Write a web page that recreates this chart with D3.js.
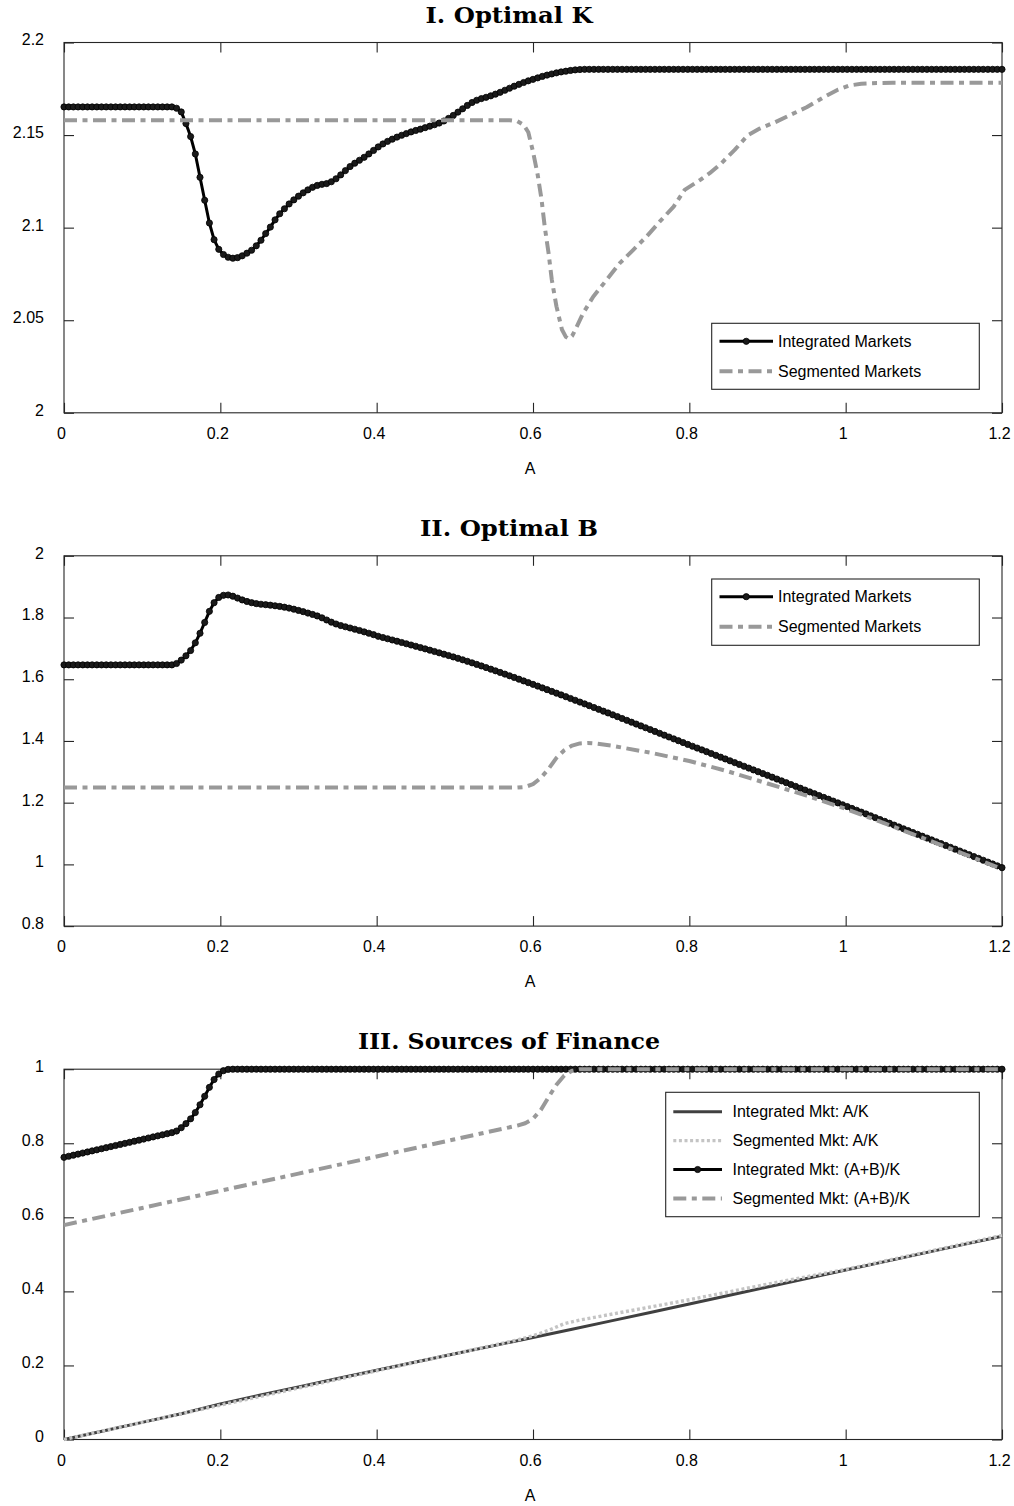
<!DOCTYPE html>
<html>
<head>
<meta charset="utf-8">
<script src="https://cdn.jsdelivr.net/npm/d3@7"></script>
<style>
body { margin: 0; background: #fff; }
svg text { fill: #000; }
</style>
</head>
<body>
<svg id="fig" width="1014" height="1506"></svg>
<script>
// ---- data ----
// integrated markets are sampled every 0.006 in A (201 points, marker at each)
var aStep = 0.006;

var intK = [
  2.1652, 2.1652, 2.1652, 2.1652, 2.1652, 2.1652, 2.1652, 2.1652, 2.1652, 2.1652,
  2.1652, 2.1652, 2.1652, 2.1652, 2.1652, 2.1652, 2.1652, 2.1652, 2.1652, 2.1652,
  2.1652, 2.1652, 2.1652, 2.1652,
  2.1645, 2.1625, 2.1562, 2.1492, 2.1398, 2.1272, 2.1148, 2.1025, 2.0935, 2.0883,
  2.0855, 2.0840, 2.0835, 2.0838, 2.0848, 2.0862, 2.0878, 2.0902, 2.0932, 2.0968,
  2.1003, 2.1042, 2.1075, 2.1102, 2.1128, 2.1150, 2.1170, 2.1188, 2.1204, 2.1218,
  2.1228, 2.1234, 2.1238, 2.1248, 2.1264, 2.1285, 2.1308, 2.1330, 2.1348, 2.1364,
  2.1380, 2.1398, 2.1417, 2.1436, 2.1452, 2.1466, 2.1478, 2.1489, 2.1499, 2.1508,
  2.1517, 2.1525, 2.1532, 2.1540, 2.1548, 2.1556, 2.1565, 2.1576, 2.1590, 2.1606,
  2.1624, 2.1642, 2.1660, 2.1676, 2.1688, 2.1697, 2.1704, 2.1712, 2.1721, 2.1731,
  2.1742, 2.1753, 2.1764, 2.1774, 2.1784, 2.1793, 2.1801, 2.1809, 2.1817, 2.1824,
  2.1830, 2.1836, 2.1841, 2.1845, 2.1849, 2.1852, 2.1854, 2.1855,
  2.1855, 2.1855, 2.1855, 2.1855, 2.1855, 2.1855, 2.1855, 2.1855, 2.1855, 2.1855,
  2.1855, 2.1855, 2.1855, 2.1855, 2.1855, 2.1855, 2.1855, 2.1855, 2.1855, 2.1855,
  2.1855, 2.1855, 2.1855, 2.1855, 2.1855, 2.1855, 2.1855, 2.1855, 2.1855, 2.1855,
  2.1855, 2.1855, 2.1855, 2.1855, 2.1855, 2.1855, 2.1855, 2.1855, 2.1855, 2.1855,
  2.1855, 2.1855, 2.1855, 2.1855, 2.1855, 2.1855, 2.1855, 2.1855, 2.1855, 2.1855,
  2.1855, 2.1855, 2.1855, 2.1855, 2.1855, 2.1855, 2.1855, 2.1855, 2.1855, 2.1855,
  2.1855, 2.1855, 2.1855, 2.1855, 2.1855, 2.1855, 2.1855, 2.1855, 2.1855, 2.1855,
  2.1855, 2.1855, 2.1855, 2.1855, 2.1855, 2.1855, 2.1855, 2.1855, 2.1855, 2.1855,
  2.1855, 2.1855, 2.1855, 2.1855, 2.1855, 2.1855, 2.1855, 2.1855, 2.1855
];

var intB = [
  1.6465, 1.6465, 1.6465, 1.6465, 1.6465, 1.6465, 1.6465, 1.6465, 1.6465, 1.6465,
  1.6465, 1.6465, 1.6465, 1.6465, 1.6465, 1.6465, 1.6465, 1.6465, 1.6465, 1.6465,
  1.6465, 1.6465, 1.6465, 1.6465,
  1.6510, 1.6620, 1.6760, 1.6930, 1.7180, 1.7490, 1.7840, 1.8200, 1.8480, 1.8650,
  1.8720, 1.8730, 1.8690, 1.8630, 1.8570, 1.8520, 1.8480, 1.8450, 1.8430, 1.8415,
  1.8400, 1.8380, 1.8360, 1.8335, 1.8305, 1.8270, 1.8230, 1.8190, 1.8145, 1.8100,
  1.8050, 1.7990, 1.7920, 1.7850, 1.7790, 1.7740, 1.7700, 1.7660, 1.7620, 1.7580,
  1.7535, 1.7490, 1.7445, 1.7392, 1.7352, 1.7312, 1.7272, 1.7232, 1.7191, 1.7150,
  1.7109, 1.7068, 1.7026, 1.6984, 1.6942, 1.6899, 1.6856, 1.6812, 1.6768, 1.6723,
  1.6678, 1.6630, 1.6581, 1.6531, 1.6481, 1.6430, 1.6378, 1.6326, 1.6273, 1.6220,
  1.6166, 1.6112, 1.6057, 1.6002, 1.5946, 1.5890, 1.5834, 1.5777, 1.5720, 1.5663,
  1.5606, 1.5549, 1.5492, 1.5434, 1.5376, 1.5318, 1.5260, 1.5202, 1.5143, 1.5084,
  1.5025, 1.4966, 1.4907, 1.4848, 1.4788, 1.4728, 1.4668, 1.4608, 1.4548, 1.4488,
  1.4428, 1.4368, 1.4308, 1.4248, 1.4188, 1.4128, 1.4068, 1.4008, 1.3948, 1.3888,
  1.3829, 1.3770, 1.3711, 1.3652, 1.3593, 1.3534, 1.3475, 1.3416, 1.3357, 1.3298,
  1.3239, 1.3180, 1.3121, 1.3062, 1.3003, 1.2944, 1.2885, 1.2826, 1.2766, 1.2707,
  1.2647, 1.2588, 1.2528, 1.2469, 1.2409, 1.2350, 1.2290, 1.2231, 1.2171, 1.2112,
  1.2052, 1.1993, 1.1933, 1.1874, 1.1814, 1.1754, 1.1694, 1.1634, 1.1574, 1.1514,
  1.1454, 1.1394, 1.1334, 1.1274, 1.1214, 1.1154, 1.1094, 1.1034, 1.0974, 1.0914,
  1.0854, 1.0794, 1.0734, 1.0674, 1.0614, 1.0554, 1.0494, 1.0434, 1.0374, 1.0314,
  1.0254, 1.0194, 1.0134, 1.0074, 1.0014, 0.9954, 0.9894
];

var intAB = [
  0.7620, 0.7649, 0.7678, 0.7707, 0.7736, 0.7765, 0.7794, 0.7823, 0.7852, 0.7881,
  0.7910, 0.7939, 0.7968, 0.7997, 0.8026, 0.8055, 0.8084, 0.8113, 0.8142, 0.8171,
  0.8200, 0.8229, 0.8258, 0.8287,
  0.8330, 0.8420, 0.8530, 0.8660, 0.8830, 0.9040, 0.9270, 0.9510, 0.9720, 0.9870,
  0.9960, 0.9995,
  1, 1, 1, 1, 1, 1, 1, 1, 1, 1, 1, 1, 1, 1, 1, 1, 1, 1, 1, 1,
  1, 1, 1, 1, 1, 1, 1, 1, 1, 1, 1, 1, 1, 1, 1, 1, 1, 1, 1, 1,
  1, 1, 1, 1, 1, 1, 1, 1, 1, 1, 1, 1, 1, 1, 1, 1, 1, 1, 1, 1,
  1, 1, 1, 1, 1, 1, 1, 1, 1, 1, 1, 1, 1, 1, 1, 1, 1, 1, 1, 1,
  1, 1, 1, 1, 1, 1, 1, 1, 1, 1, 1, 1, 1, 1, 1, 1, 1, 1, 1, 1,
  1, 1, 1, 1, 1, 1, 1, 1, 1, 1, 1, 1, 1, 1, 1, 1, 1, 1, 1, 1,
  1, 1, 1, 1, 1, 1, 1, 1, 1, 1, 1, 1, 1, 1, 1, 1, 1, 1, 1, 1,
  1, 1, 1, 1, 1, 1, 1, 1, 1, 1, 1, 1, 1, 1, 1, 1, 1, 1, 1, 1,
  1, 1, 1, 1, 1
];

// segmented markets (no markers), irregular A points
var segKA = [0, 0.57, 0.58, 0.588, 0.594, 0.6, 0.606, 0.611, 0.615, 0.62, 0.624, 0.63, 0.637, 0.642, 0.646, 0.65,
  0.654, 0.664, 0.677, 0.694, 0.711, 0.728, 0.745, 0.762, 0.78, 0.794, 0.814, 0.826, 0.841, 0.858, 0.875,
  0.89, 0.91, 0.93, 0.95, 0.97, 0.99, 1.005, 1.02, 1.04, 1.06, 1.2];
var segK = [2.158, 2.158, 2.1575, 2.1555, 2.1515, 2.141, 2.1285, 2.115, 2.1005, 2.086, 2.072, 2.0575, 2.045, 2.041, 2.04, 2.0415,
  2.0447, 2.0537, 2.0627, 2.0717, 2.0808, 2.0879, 2.0951, 2.1032, 2.1114, 2.1204, 2.1258, 2.1294, 2.1348, 2.142, 2.15,
  2.1535, 2.157, 2.161, 2.165, 2.17, 2.1745, 2.1768, 2.1777, 2.1781, 2.1782, 2.1782];

var segBA = [0, 0.58, 0.59, 0.6, 0.61, 0.62, 0.63, 0.64, 0.65, 0.66, 0.67, 0.68, 0.7, 0.75, 0.8, 0.85, 0.9, 0.95, 1, 1.05, 1.1, 1.15, 1.2];
var segB = [1.249, 1.249, 1.251, 1.26, 1.28, 1.31, 1.345, 1.37, 1.385, 1.392, 1.3935, 1.3915, 1.385, 1.362, 1.335, 1.301, 1.262, 1.223, 1.18, 1.133, 1.084, 1.035, 0.985];

var segABA = [0, 0.1, 0.2, 0.3, 0.4, 0.5, 0.58, 0.59, 0.6, 0.61, 0.62, 0.63, 0.64, 0.65, 0.66, 1.2];
var segAB = [0.579, 0.6253, 0.6717, 0.718, 0.7644, 0.8107, 0.8478, 0.854, 0.866, 0.89, 0.925, 0.958, 0.983, 0.996, 1, 1];

var akA = [0, 0.05, 0.1, 0.15, 0.2, 0.25, 0.3, 0.35, 0.4, 0.45, 0.5, 0.55, 0.6, 0.65, 0.7, 0.75, 0.8, 0.85, 0.9, 0.95, 1, 1.05, 1.1, 1.15, 1.2];
var intAK = [0, 0.0231, 0.0462, 0.0694, 0.0957, 0.1194, 0.1418, 0.1645, 0.187, 0.2094, 0.2318, 0.2535, 0.2757, 0.2977,
  0.3204, 0.3432, 0.366, 0.389, 0.4118, 0.4347, 0.4576, 0.4804, 0.5033, 0.5262, 0.549];
var segAKA = [0, 0.05, 0.1, 0.15, 0.2, 0.25, 0.3, 0.35, 0.4, 0.45, 0.5, 0.55, 0.58, 0.6, 0.62, 0.64, 0.66, 0.7, 0.75, 0.8, 0.85, 0.9, 0.95, 1, 1.05, 1.1, 1.15, 1.2];
var segAK = [0, 0.0232, 0.0463, 0.0695, 0.0927, 0.1158, 0.139, 0.1622, 0.1854, 0.2085, 0.2317, 0.2549, 0.2688, 0.2803,
  0.2948, 0.3128, 0.3228, 0.3382, 0.3577, 0.3775, 0.3984, 0.4195, 0.4395, 0.4594, 0.4821, 0.505, 0.528, 0.551];

// ticks
var xTicks = [0, 0.2, 0.4, 0.6, 0.8, 1, 1.2];
var xTickLabels = ["0", "0.2", "0.4", "0.6", "0.8", "1", "1.2"];
var kTicks = [2, 2.05, 2.1, 2.15, 2.2];
var kTickLabels = ["2", "2.05", "2.1", "2.15", "2.2"];
var bTicks = [0.8, 1, 1.2, 1.4, 1.6, 1.8, 2];
var bTickLabels = ["0.8", "1", "1.2", "1.4", "1.6", "1.8", "2"];
var fTicks = [0, 0.2, 0.4, 0.6, 0.8, 1];
var fTickLabels = ["0", "0.2", "0.4", "0.6", "0.8", "1"];

var titles = ["I. Optimal K", "II. Optimal B", "III. Sources of Finance"];
var legendK = ["Integrated Markets", "Segmented Markets"];
var legendF = ["Integrated Mkt: A/K", "Segmented Mkt: A/K", "Integrated Mkt: (A+B)/K", "Segmented Mkt: (A+B)/K"];

// ---- layout ----
var left = 64, right = 1002, plotH = 370.3;
var tops = [42.5, 555.8, 1069.2];
var titleW = [167, 178, 302];   // rendered widths of the wide serif titles
var sans = "'Liberation Sans', Arial, Helvetica, sans-serif";

var svg = d3.select("#fig");
var x = d3.scaleLinear().domain([0, 1.2]).range([left, right]);

var sty = {
  intM: { stroke: "#000", width: 3, dash: null, marker: true },
  seg: { stroke: "#999", width: 4, dash: "13,5.5,5,5.5" },
  intL: { stroke: "#404040", width: 3, dash: null },
  segD: { stroke: "#c4c4c4", width: 3.4, dash: "3,2.6" }
};

function pairs(xs, ys) { return ys.map(function(v, i) { return [xs[i], v]; }); }
function grid(ys) { return ys.map(function(v, i) { return [i * aStep, v]; }); }

function panel(idx, yDomain, yTicks, yLabels) {
  var top = tops[idx], bottom = top + plotH;
  var y = d3.scaleLinear().domain(yDomain).range([bottom, top]);
  var g = svg.append("g");

  // box
  g.append("rect").attr("x", left).attr("y", top).attr("width", right - left).attr("height", plotH)
    .attr("fill", "none").attr("stroke", "#262626").attr("stroke-width", 1.1);

  var xb = g.append("g").attr("transform", "translate(0," + bottom + ")")
    .call(d3.axisBottom(x).tickValues(xTicks).tickSize(-10).tickPadding(15)
      .tickFormat(function(d, i) { return xTickLabels[i]; }));
  var xt = g.append("g").attr("transform", "translate(0," + top + ")")
    .call(d3.axisTop(x).tickValues(xTicks).tickSize(-10).tickFormat(""));
  var yl = g.append("g").attr("transform", "translate(" + left + ",0)")
    .call(d3.axisLeft(y).tickValues(yTicks).tickSize(-10).tickPadding(20)
      .tickFormat(function(d, i) { return yLabels[i]; }));
  var yr = g.append("g").attr("transform", "translate(" + right + ",0)")
    .call(d3.axisRight(y).tickValues(yTicks).tickSize(-10).tickFormat(""));

  [xb, xt, yl, yr].forEach(function(a) {
    a.select(".domain").remove();
    a.selectAll("line").attr("stroke", "#262626").attr("stroke-width", 1.1);
    a.selectAll("text").style("font-size", "16px").style("font-family", sans).attr("fill", "#1a1a1a");
  });
  xb.selectAll("text").attr("dx", -3);
  yl.selectAll("text").attr("dy", "0.15em");

  g.append("text").attr("x", 509).attr("y", top - 20).attr("text-anchor", "middle")
    .attr("textLength", titleW[idx]).attr("lengthAdjust", "spacingAndGlyphs")
    .style("font-family", "'DejaVu Serif', serif").style("font-weight", "bold").style("font-size", "22px")
    .text(titles[idx]);

  g.append("text").attr("x", 530).attr("y", bottom + 61).attr("text-anchor", "middle")
    .style("font-family", sans).style("font-size", "16px").text("A");

  return { g: g, y: y };
}

function series(p, data, s) {
  var line = d3.line().x(function(d) { return x(d[0]); }).y(function(d) { return p.y(d[1]); });
  p.g.append("path").datum(data).attr("d", line).attr("fill", "none")
    .attr("stroke", s.stroke).attr("stroke-width", s.width)
    .attr("stroke-dasharray", s.dash).attr("stroke-linejoin", "round");
  if (s.marker) {
    p.g.append("g").selectAll("circle").data(data).enter().append("circle")
      .attr("cx", function(d) { return x(d[0]); })
      .attr("cy", function(d) { return p.y(d[1]); })
      .attr("r", 3.1).attr("fill", "#1a1a1a").attr("stroke", "#000").attr("stroke-width", 0.8);
  }
}

function legend(p, box, rows) {
  var g = p.g.append("g");
  g.append("rect").attr("x", box.x).attr("y", box.y).attr("width", box.w).attr("height", box.h)
    .attr("fill", "#fff").attr("stroke", "#262626").attr("stroke-width", 1.1);
  rows.forEach(function(r, i) {
    var cy = box.y + box.first + i * box.step;
    g.append("line").attr("x1", box.lx0).attr("x2", box.lx1).attr("y1", cy).attr("y2", cy)
      .attr("stroke", r.s.stroke).attr("stroke-width", r.s.width).attr("stroke-dasharray", r.s.dash);
    if (r.s.marker) {
      g.append("circle").attr("cx", (box.lx0 + box.lx1) / 2).attr("cy", cy).attr("r", 3.1)
        .attr("fill", "#1a1a1a").attr("stroke", "#000").attr("stroke-width", 0.8);
    }
    g.append("text").attr("x", box.tx).attr("y", cy + 5.5)
      .style("font-family", sans).style("font-size", "16px").text(r.label);
  });
}

// ---- panel I ----
var p1 = panel(0, [2, 2.2], kTicks, kTickLabels);
series(p1, grid(intK), sty.intM);
series(p1, pairs(segKA, segK), sty.seg);
legend(p1, { x: 711.7, y: 323.3, w: 267.6, h: 66, first: 18, step: 30, lx0: 719.5, lx1: 773, tx: 778 },
  [{ label: legendK[0], s: sty.intM }, { label: legendK[1], s: sty.seg }]);

// ---- panel II ----
var p2 = panel(1, [0.8, 2], bTicks, bTickLabels);
series(p2, grid(intB), sty.intM);
series(p2, pairs(segBA, segB), sty.seg);
legend(p2, { x: 711.7, y: 579, w: 267.6, h: 66.3, first: 17.7, step: 30, lx0: 719.5, lx1: 773, tx: 778 },
  [{ label: legendK[0], s: sty.intM }, { label: legendK[1], s: sty.seg }]);

// ---- panel III ----
var p3 = panel(2, [0, 1], fTicks, fTickLabels);
series(p3, pairs(akA, intAK), sty.intL);
series(p3, pairs(segAKA, segAK), sty.segD);
series(p3, grid(intAB), sty.intM);
series(p3, pairs(segABA, segAB), sty.seg);
legend(p3, { x: 665.7, y: 1092.3, w: 313.6, h: 124.4, first: 19.4, step: 28.9, lx0: 673.3, lx1: 722, tx: 732.5 },
  [{ label: legendF[0], s: sty.intL }, { label: legendF[1], s: sty.segD },
   { label: legendF[2], s: sty.intM }, { label: legendF[3], s: sty.seg }]);
</script>
</body>
</html>
